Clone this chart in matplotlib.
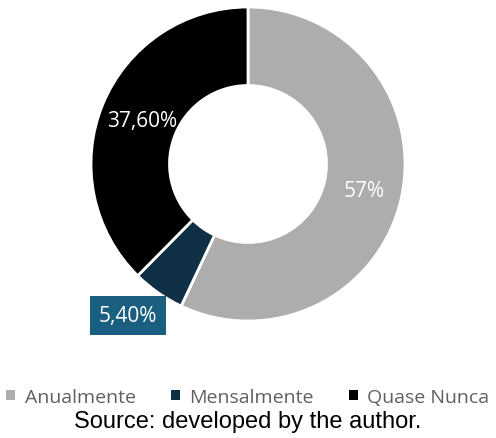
import matplotlib
matplotlib.use("Agg")
import matplotlib.pyplot as plt
import matplotlib.transforms as mtransforms
import numpy as np

# shares of each answer
categories = ["Anualmente", "Mensalmente", "Quase Nunca"]
shares = [57.0, 5.4, 37.6]
labels_txt = ["57%", "5,40%", "37,60%"]
colors = ["#adadad", "#0f3044", "#000000"]

fig = plt.figure(figsize=(4.96, 4.39), dpi=100)
ax = fig.add_axes([91 / 496, 1 - 322 / 439, 314 / 496, 314 / 439])

wedges, _ = ax.pie(shares, colors=colors, startangle=90, counterclock=False,
                   radius=1.0, wedgeprops=dict(width=0.5, edgecolor="white", linewidth=2))
ax.set_xlim(-1, 1)
ax.set_ylim(-1, 1)
ax.set_aspect("equal")
ax.axis("off")

# label distance from centre, small nudge for the outside box
dists = [0.76, 1.2, 0.73]
nudges = [(0, 0), (-12, 3), (0, 0)]
for w, txt, d, (nx, ny) in zip(wedges, labels_txt, dists, nudges):
    mid = np.deg2rad((w.theta1 + w.theta2) / 2)
    x, y = d * np.cos(mid), d * np.sin(mid)
    tr = ax.transData + mtransforms.ScaledTranslation(nx / 100, ny / 100, fig.dpi_scale_trans)
    kw = {}
    if txt == "5,40%":
        kw["bbox"] = dict(boxstyle="square,pad=0.42", fc="#1b5f80", ec="none")
    ax.text(x, y, txt, ha="center", va="center", color="white",
            fontsize=15, family="Open Sans", transform=tr, **kw)

leg = fig.legend(wedges, categories, loc="center", bbox_to_anchor=(0.5, 1 - 398 / 439),
                 ncol=3, frameon=False, handlelength=0.45, handleheight=0.45,
                 handletextpad=0.5, columnspacing=1.8, prop=dict(family="Open Sans", size=14))
for t in leg.get_texts():
    t.set_color("#606060")
for h in leg.legend_handles:
    h.set_edgecolor("none")

fig.text(0.5, 1 - 422 / 439, "Source: developed by the author.", ha="center", va="center",
         fontsize=17, family="Liberation Sans", color="black")

fig.savefig("out.png", dpi=100)
